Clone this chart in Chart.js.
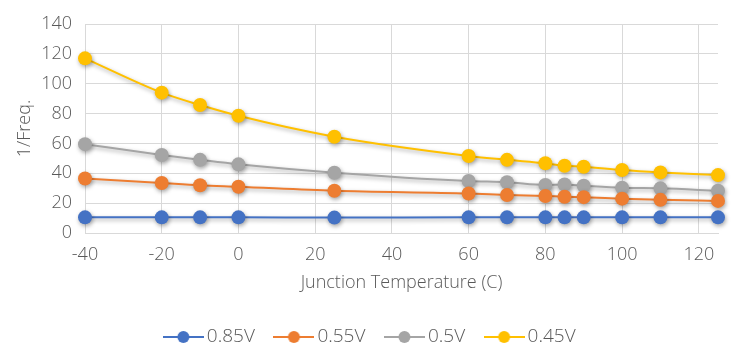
<!DOCTYPE html>
<html><head><meta charset="utf-8">
<script src="https://cdn.jsdelivr.net/npm/chart.js@4/dist/chart.umd.min.js"></script>
<style>html,body{margin:0;padding:0;background:#fff}#wrap{width:745px;height:359px}</style>
</head><body><div id="wrap"><canvas id="c" width="745" height="359"></canvas></div>
<script>
const temps = [-40, -20, -10, 0, 25, 60, 70, 80, 85, 90, 100, 110, 125];
const v085 = [10.5, 10.5, 10.5, 10.5, 10.3, 10.5, 10.5, 10.5, 10.5, 10.5, 10.5, 10.5, 10.5];
const v055 = [36.5, 33.5, 32, 31, 28.3, 26.5, 25.5, 24.8, 24.3, 24, 23, 22.2, 21.5];
const v050 = [59.5, 52.2, 49, 46, 40.4, 34.8, 34, 32.2, 32.5, 31.7, 30.3, 29.9, 28.3];
const v045 = [117, 94, 85.7, 78.5, 64.5, 51.6, 49, 46.7, 45, 44.4, 42.2, 40.6, 38.8];
const seriesNames = ['0.85V', '0.55V', '0.5V', '0.45V'];
const colors = ['#4472C4', '#ED7D31', '#A5A5A5', '#FFC000'];
const yTicks = [0, 20, 40, 60, 80, 100, 120, 140];
const xTicks = [-40, -20, 0, 20, 40, 60, 80, 100, 120];

const allVals = [v085, v055, v050, v045];
const FONT = '"Open Sans", "Liberation Sans", sans-serif';
const FS = 18;
const TXT = '#595959';

function legendIcon(color) {
  const c = document.createElement('canvas');
  c.width = 41; c.height = 14;
  const g = c.getContext('2d');
  g.strokeStyle = color; g.lineWidth = 2;
  g.beginPath(); g.moveTo(0, 7); g.lineTo(41, 7); g.stroke();
  g.fillStyle = color;
  g.beginPath(); g.arc(20.5, 7, 6, 0, Math.PI * 2); g.fill();
  return c;
}

const datasets = seriesNames.map((n, i) => ({
  label: n,
  data: temps.map((t, j) => ({x: t, y: allVals[i][j]})),
  borderColor: colors[i],
  backgroundColor: colors[i],
  borderWidth: 2,
  pointRadius: 7,
  pointHoverRadius: 7,
  pointBorderWidth: 0,
  tension: 0.3,
  cubicInterpolationMode: 'monotone',
  clip: false,
  yAxisID: 'y'
}));

const shadow = {
  id: 'shadow',
  beforeDatasetsDraw(chart) {
    const ctx = chart.ctx;
    ctx.save();
    ctx.shadowColor = 'rgba(0,0,0,0.35)';
    ctx.shadowBlur = 4;
    ctx.shadowOffsetX = 1;
    ctx.shadowOffsetY = 2;
  },
  afterDatasetsDraw(chart) { chart.ctx.restore(); }
};

new Chart(document.getElementById('c'), {
  type: 'line',
  data: { datasets },
  plugins: [shadow],
  options: {
    responsive: false,
    animation: false,
    layout: { padding: { left: 0, right: 0, top: 24, bottom: 2.5 } },
    plugins: {
      tooltip: { enabled: false },
      legend: {
        position: 'bottom',
        labels: {
          usePointStyle: true,
          pointStyleWidth: 28,
          color: TXT,
          font: { family: FONT, size: 19, weight: 300 },
          padding: 25,
          generateLabels() {
            return seriesNames.map((n, i) => ({
              text: n,
              fillStyle: colors[i],
              strokeStyle: colors[i],
              fontColor: TXT,
              pointStyle: legendIcon(colors[i]),
              datasetIndex: i,
              lineWidth: 0
            }));
          }
        }
      }
    },
    scales: {
      x: {
        type: 'linear',
        min: -40, max: 125,
        afterBuildTicks(axis) { axis.ticks = xTicks.map(v => ({value: v})); },
        afterFit(axis) { axis.height = 69.5; },
        grid: { color: '#D9D9D9', lineWidth: 1, tickLength: 0 },
        border: { color: '#D9D9D9' },
        ticks: { color: TXT, font: { family: FONT, size: FS, weight: 300 }, padding: 11, maxRotation: 0 },
        title: { display: true, text: 'Junction Temperature (C)', color: TXT, font: { family: FONT, size: FS, weight: 300 }, padding: { top: 0, bottom: 8.7 } }
      },
      y: {
        min: 0, max: 140,
        afterBuildTicks(axis) { axis.ticks = yTicks.map(v => ({value: v})); },
        afterFit(axis) { axis.width = 85; },
        grid: { color: '#D9D9D9', lineWidth: 1, tickLength: 0 },
        border: { color: '#D9D9D9' },
        ticks: { color: TXT, font: { family: FONT, size: FS, weight: 300 }, padding: 13 },
        title: { display: true, text: '1/Freq.', color: TXT, font: { family: FONT, size: FS, weight: 300 }, padding: { top: 14, bottom: 0 } }
      },
      yRight: {
        position: 'right',
        min: 0, max: 140,
        afterFit(axis) { axis.width = 27; },
        grid: { display: false },
        border: { display: false },
        ticks: { display: false }
      }
    }
  }
});
</script>
</body></html>
